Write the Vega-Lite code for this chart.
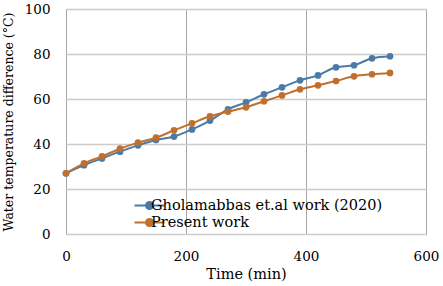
{
  "$schema": "https://vega.github.io/schema/vega-lite/v6.json",
  "width": 360,
  "height": 225,
  "autosize": {"type": "none"},
  "padding": {"left": 66, "top": 9, "right": 17, "bottom": 52},
  "background": "white",
  "config": {
    "font": "DejaVu Serif",
    "axis": {"labelFont": "DejaVu Serif", "titleFont": "DejaVu Serif"},
    "legend": {"labelFont": "DejaVu Serif"},
    "view": {"stroke": "#a6a6a6", "strokeWidth": 1}
  },
  "data": {
    "values": [
      {"t": 0, "v": 27, "s": "Gholamabbas et.al work (2020)"},
      {"t": 30, "v": 30.6, "s": "Gholamabbas et.al work (2020)"},
      {"t": 60, "v": 33.6, "s": "Gholamabbas et.al work (2020)"},
      {"t": 90, "v": 36.6, "s": "Gholamabbas et.al work (2020)"},
      {"t": 120, "v": 39.4, "s": "Gholamabbas et.al work (2020)"},
      {"t": 150, "v": 41.8, "s": "Gholamabbas et.al work (2020)"},
      {"t": 180, "v": 43.3, "s": "Gholamabbas et.al work (2020)"},
      {"t": 210, "v": 46.5, "s": "Gholamabbas et.al work (2020)"},
      {"t": 240, "v": 50.4, "s": "Gholamabbas et.al work (2020)"},
      {"t": 270, "v": 55.4, "s": "Gholamabbas et.al work (2020)"},
      {"t": 300, "v": 58.5, "s": "Gholamabbas et.al work (2020)"},
      {"t": 330, "v": 62.1, "s": "Gholamabbas et.al work (2020)"},
      {"t": 360, "v": 65.2, "s": "Gholamabbas et.al work (2020)"},
      {"t": 390, "v": 68.3, "s": "Gholamabbas et.al work (2020)"},
      {"t": 420, "v": 70.5, "s": "Gholamabbas et.al work (2020)"},
      {"t": 450, "v": 74.1, "s": "Gholamabbas et.al work (2020)"},
      {"t": 480, "v": 75, "s": "Gholamabbas et.al work (2020)"},
      {"t": 510, "v": 78.1, "s": "Gholamabbas et.al work (2020)"},
      {"t": 540, "v": 79, "s": "Gholamabbas et.al work (2020)"},
      {"t": 0, "v": 27, "s": "Present work"},
      {"t": 30, "v": 31.4, "s": "Present work"},
      {"t": 60, "v": 34.5, "s": "Present work"},
      {"t": 90, "v": 37.9, "s": "Present work"},
      {"t": 120, "v": 40.6, "s": "Present work"},
      {"t": 150, "v": 42.8, "s": "Present work"},
      {"t": 180, "v": 46.1, "s": "Present work"},
      {"t": 210, "v": 49.2, "s": "Present work"},
      {"t": 240, "v": 52.3, "s": "Present work"},
      {"t": 270, "v": 54.4, "s": "Present work"},
      {"t": 300, "v": 56.3, "s": "Present work"},
      {"t": 330, "v": 59, "s": "Present work"},
      {"t": 360, "v": 61.6, "s": "Present work"},
      {"t": 390, "v": 64.3, "s": "Present work"},
      {"t": 420, "v": 66.1, "s": "Present work"},
      {"t": 450, "v": 68, "s": "Present work"},
      {"t": 480, "v": 70.1, "s": "Present work"},
      {"t": 510, "v": 71, "s": "Present work"},
      {"t": 540, "v": 71.6, "s": "Present work"}
    ]
  },
  "encoding": {
    "x": {
      "field": "t", "type": "quantitative",
      "scale": {"domain": [0, 600], "nice": false},
      "axis": {
        "title": "Time (min)", "values": [0, 200, 400, 600],
        "domain": false, "ticks": false, "labelPadding": 15,
        "labelFontSize": 13.5, "labelColor": "#000", "titleFontSize": 14.5,
        "titleFontWeight": "normal", "titleColor": "#000", "titlePadding": 5,
        "gridColor": "#a6a6a6", "gridWidth": 1, "labelFlush": false
      }
    },
    "y": {
      "field": "v", "type": "quantitative",
      "scale": {"domain": [0, 100], "nice": false},
      "axis": {
        "title": "Water temperature difference (°C)", "values": [0, 20, 40, 60, 80, 100],
        "domain": false, "ticks": false, "labelPadding": 16,
        "labelFontSize": 13.5, "labelColor": "#000", "titleFontSize": 12.5,
        "titleFontWeight": "normal", "titleColor": "#000", "titlePadding": 9,
        "gridColor": "#cccccc", "gridWidth": 1.5
      }
    },
    "color": {
      "field": "s", "type": "nominal",
      "scale": {"domain": ["Gholamabbas et.al work (2020)", "Present work"], "range": ["#4a7aa8", "#c0702c"]},
      "legend": {
        "title": null, "orient": "none", "legendX": 75, "legendY": 188,
        "labelFontSize": 14.5, "labelColor": "#000", "labelOffset": -7, "labelLimit": 400,
        "rowPadding": 0,
        "symbolType": "M-2,0L2,0M-0.47,0A0.47,0.47 0 1,1 0.47,0A0.47,0.47 0 1,1 -0.47,0Z",
        "symbolSize": 225, "symbolStrokeWidth": 2,
        "encode": {"symbols": {"update": {"fill": {"scale": "color", "field": "value"}}}}
      }
    }
  },
  "layer": [
    {"mark": {"type": "line", "interpolate": "monotone", "strokeWidth": 2}},
    {"mark": {"type": "circle", "size": 45, "opacity": 1, "stroke": null}}
  ]
}
